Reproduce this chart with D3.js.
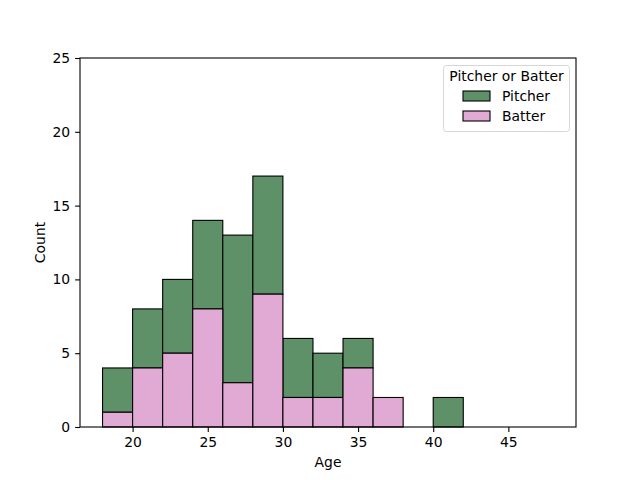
<!DOCTYPE html>
<html>
<head>
<meta charset="utf-8">
<script src="https://cdn.jsdelivr.net/npm/d3@7"></script>
<style>
  body { margin: 0; background: #fff; }
  text { font-family: "DejaVu Sans", sans-serif; }
</style>
</head>
<body>
<script>
// bins of width 2 years, starting at 18
let binStarts = [18, 20, 22, 24, 26, 28, 30, 32, 34, 36, 38, 40, 42, 44, 46];
let batter  = [1, 4, 5, 8, 3, 9, 2, 2, 4, 2, 0, 0, 0, 0, 0];
let pitcher = [3, 4, 5, 6, 10, 8, 4, 3, 2, 0, 0, 2, 0, 0, 0];
let xTicks = [20, 25, 30, 35, 40, 45];
let yTicks = [0, 5, 10, 15, 20, 25];

var width = 640,
    height = 480;
let margin = { left: 80, right: 64, top: 58, bottom: 53 };
let binWidth = 2;

let svg = d3.select("body")
  .append("svg")
  .attr("width", width)
  .attr("height", height);

let x = d3.scaleLinear()
  .domain([16.5, 49.5])
  .range([margin.left, width - margin.right]);

let y = d3.scaleLinear()
  .domain([0, 25])
  .range([height - margin.bottom, margin.top]);

let colors = { Pitcher: "#5e9167", Batter: "#e0aad4" };

// stacked layers: batter on the bottom, pitcher on top
let rows = binStarts.map(function(b, i){
  return { start: b, Batter: batter[i], Pitcher: pitcher[i] };
});
let stack = d3.stack().keys(["Batter", "Pitcher"]);
let layers = stack(rows);

let bars = svg.append("g").attr("id", "bars");

// pitcher drawn first, batter over it (as seaborn does)
[layers[1], layers[0]].forEach(function(layer){
  bars.append("g")
    .selectAll("rect")
    .data(layer)
    .enter()
    .append("rect")
    .attr("x", function(d){ return x(d.data.start); })
    .attr("width", function(d){ return x(d.data.start + binWidth) - x(d.data.start); })
    .attr("y", function(d){ return y(d[1]); })
    .attr("height", function(d){ return y(d[0]) - y(d[1]); })
    .attr("fill", colors[layer.key])
    .attr("stroke", "black")
    .attr("stroke-width", 1.1);
});

// axes
let xAxis = svg.append("g")
  .attr("transform", "translate(0," + (height - margin.bottom) + ")")
  .call(d3.axisBottom(x).tickValues(xTicks).tickSize(4.9).tickPadding(4.9).tickSizeOuter(0));

let yAxis = svg.append("g")
  .attr("transform", "translate(" + margin.left + ",0)")
  .call(d3.axisLeft(y).tickValues(yTicks).tickSize(4.9).tickPadding(4.9).tickSizeOuter(0));

[xAxis, yAxis].forEach(function(a){
  a.select(".domain").remove();
  a.selectAll("line").attr("stroke", "black").attr("stroke-width", 1.1);
  a.selectAll("text").attr("font-size", "13.9px").attr("fill", "black")
    .style("font-family", "DejaVu Sans");
});

// frame
svg.append("rect")
  .attr("x", margin.left)
  .attr("y", margin.top)
  .attr("width", width - margin.left - margin.right)
  .attr("height", height - margin.top - margin.bottom)
  .attr("fill", "none")
  .attr("stroke", "black")
  .attr("stroke-width", 1.1);

svg.append("text")
  .attr("x", (margin.left + width - margin.right) / 2)
  .attr("y", 467)
  .attr("text-anchor", "middle")
  .attr("font-size", "13.9px")
  .text("Age");

svg.append("text")
  .attr("transform", "translate(45," + ((margin.top + height - margin.bottom) / 2) + ") rotate(-90)")
  .attr("text-anchor", "middle")
  .attr("font-size", "13.9px")
  .text("Count");

// legend
let legend = svg.append("g").attr("id", "legend");
legend.append("rect")
  .attr("x", 443.5).attr("y", 65.5)
  .attr("width", 126).attr("height", 66)
  .attr("rx", 3)
  .attr("fill", "white")
  .attr("stroke", "#d6d6d6")
  .attr("stroke-width", 1);

legend.append("text")
  .attr("x", 506.5).attr("y", 81)
  .attr("text-anchor", "middle")
  .attr("font-size", "13.9px")
  .text("Pitcher or Batter");

["Pitcher", "Batter"].forEach(function(k, i){
  legend.append("rect")
    .attr("x", 463).attr("y", 91 + i * 20)
    .attr("width", 27).attr("height", 10)
    .attr("fill", colors[k])
    .attr("stroke", "black")
    .attr("stroke-width", 1.1);
  legend.append("text")
    .attr("x", 502).attr("y", 101 + i * 20)
    .attr("font-size", "13.9px")
    .text(k);
});
</script>
</body>
</html>
